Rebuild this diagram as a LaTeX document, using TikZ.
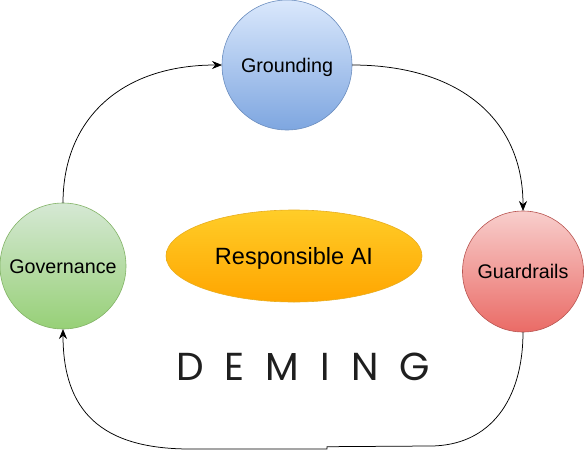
\documentclass[tikz,border=0pt]{standalone}
\usepackage{fontspec}
\setmainfont{Liberation Sans}
\newfontfamily\logofont[LetterSpace=54]{Poppins}
\usetikzlibrary{arrows.meta,shapes.geometric}
\definecolor{bluetop}{HTML}{DAE8FC}
\definecolor{bluebot}{HTML}{7EA6E0}
\definecolor{blueline}{HTML}{6C8EBF}
\definecolor{greentop}{HTML}{D5E8D4}
\definecolor{greenbot}{HTML}{97D077}
\definecolor{greenline}{HTML}{82B366}
\definecolor{redtop}{HTML}{F8CECC}
\definecolor{redbot}{HTML}{EA6B66}
\definecolor{redline}{HTML}{B85450}
\definecolor{orangetop}{HTML}{FFCD28}
\definecolor{orangebot}{HTML}{FFA500}
\definecolor{orangeline}{HTML}{E8AE20}

\begin{document}
\begin{tikzpicture}[x=1pt,y=-1pt,font=\fontsize{19.7}{22}\selectfont,
    pillar/.style={circle,draw,line width=0.6pt,inner sep=0pt,outer sep=0pt,text height=14pt,text depth=0pt},
    flow/.style={draw=black,line width=0.75pt,-{Stealth[length=10pt,width=8pt]}}]
  \useasboundingbox (0,0) rectangle (584,450);
  % the three pillars and the centre
  \node[pillar,draw=blueline,top color=bluetop,bottom color=bluebot,minimum size=130pt] (grounding) at (287,65) {Grounding};
  \node[pillar,draw=greenline,top color=greentop,bottom color=greenbot,minimum size=126pt] (governance) at (63,266) {Governance};
  \node[pillar,draw=redline,top color=redtop,bottom color=redbot,minimum size=121pt] (guardrails) at (523,271.5) {Guardrails};
  \node[ellipse,draw=orangeline,line width=0.6pt,inner sep=0pt,top color=orangetop,bottom color=orangebot,
    minimum width=256pt,minimum height=92pt,text height=17pt,text depth=0pt,font=\fontsize{23.5}{26}\selectfont] (responsible) at (294,256) {Responsible AI};
  \node[inner sep=0pt,font=\logofont\fontsize{39}{40}\selectfont,text=black!88] (deming) at (303,367) {DEMING};
  % connectors
  \path[flow] (grounding.east) .. controls (460,65) and (523,120) .. (guardrails.north);
  \path[flow] (governance.north) .. controls (63,120) and (120,65) .. (grounding.west);
  \path[flow] (guardrails.south) .. controls (523,400) and (490,446) .. (430,446) -- (327,446.7) -- (327,449)
    -- (190,449) .. controls (100,449) and (63,410) .. (governance.south);
\end{tikzpicture}
\end{document}
